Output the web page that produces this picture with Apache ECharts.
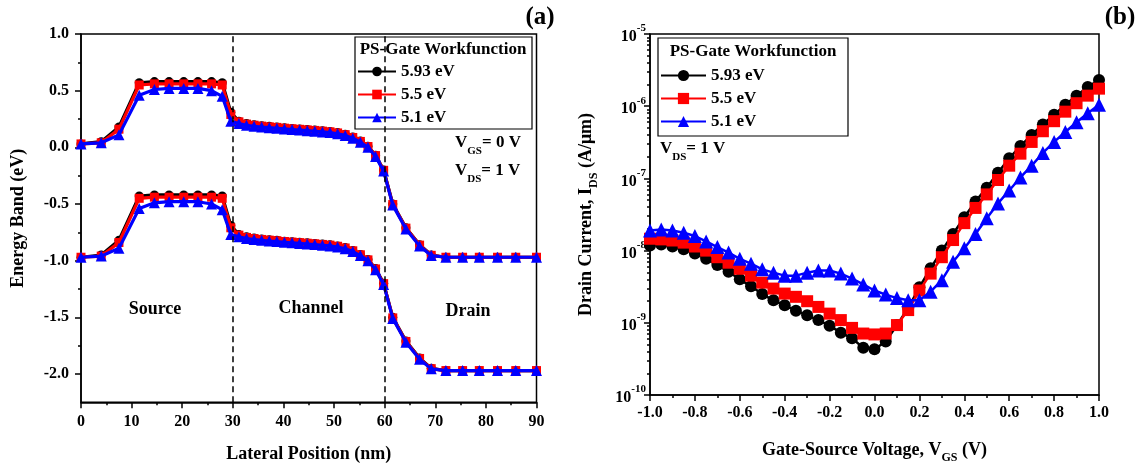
<!DOCTYPE html>
<html><head><meta charset="utf-8">
<script src="https://cdn.jsdelivr.net/npm/echarts@6/dist/echarts.min.js"></script>
<style>html,body{margin:0;padding:0;background:#fff}#c{width:1143px;height:469px}</style>
</head><body><div id="c"></div>
<script>
// ---------- Panel (a): energy band vs lateral position ----------
const posX = [0, 4, 7.5, 11.5, 14.5, 17.4, 20.3, 23.1, 25.8, 27.9, 29.6, 31.2, 32.7, 34.2, 35.7, 37.2, 38.7, 40.2, 41.7, 43.2, 44.7, 46.2, 47.7, 49.2, 50.7, 52.2, 53.7, 55.2, 56.7, 58.2, 59.8, 61.6, 64.2, 66.9, 69.2, 72.1, 75.4, 78.7, 82.3, 85.9, 90];
const ecBlack = [0.03, 0.05, 0.18, 0.57, 0.58, 0.58, 0.58, 0.58, 0.58, 0.57, 0.31, 0.23, 0.21, 0.20, 0.19, 0.185, 0.18, 0.172, 0.167, 0.162, 0.157, 0.152, 0.146, 0.14, 0.13, 0.115, 0.09, 0.055, 0.01, -0.07, -0.20, -0.50, -0.71, -0.86, -0.95, -0.97, -0.97, -0.97, -0.97, -0.97, -0.97];
const ecRed   = [0.03, 0.04, 0.16, 0.55, 0.56, 0.56, 0.56, 0.56, 0.56, 0.55, 0.29, 0.225, 0.205, 0.195, 0.187, 0.181, 0.176, 0.169, 0.164, 0.159, 0.154, 0.149, 0.143, 0.137, 0.127, 0.112, 0.087, 0.052, 0.007, -0.073, -0.203, -0.505, -0.713, -0.863, -0.953, -0.97, -0.97, -0.97, -0.97, -0.97, -0.97];
const ecBlue  = [0.03, 0.04, 0.11, 0.46, 0.51, 0.52, 0.52, 0.52, 0.50, 0.45, 0.23, 0.21, 0.195, 0.186, 0.179, 0.173, 0.168, 0.162, 0.157, 0.152, 0.147, 0.142, 0.136, 0.13, 0.12, 0.105, 0.08, 0.045, 0.0, -0.08, -0.21, -0.51, -0.72, -0.87, -0.955, -0.97, -0.97, -0.97, -0.97, -0.97, -0.97];
const evBlack = [-0.97, -0.95, -0.82, -0.43, -0.42, -0.42, -0.42, -0.42, -0.42, -0.43, -0.69, -0.77, -0.79, -0.80, -0.81, -0.815, -0.82, -0.828, -0.833, -0.838, -0.843, -0.848, -0.854, -0.86, -0.87, -0.885, -0.91, -0.945, -0.99, -1.07, -1.20, -1.50, -1.71, -1.86, -1.95, -1.97, -1.97, -1.97, -1.97, -1.97, -1.97];
const evRed   = [-0.97, -0.96, -0.84, -0.45, -0.44, -0.44, -0.44, -0.44, -0.44, -0.45, -0.71, -0.775, -0.795, -0.805, -0.813, -0.819, -0.824, -0.831, -0.836, -0.841, -0.846, -0.851, -0.857, -0.863, -0.873, -0.888, -0.913, -0.948, -0.993, -1.073, -1.203, -1.505, -1.713, -1.863, -1.953, -1.97, -1.97, -1.97, -1.97, -1.97, -1.97];
const evBlue  = [-0.97, -0.96, -0.89, -0.54, -0.49, -0.48, -0.48, -0.48, -0.50, -0.55, -0.77, -0.79, -0.805, -0.814, -0.821, -0.827, -0.832, -0.838, -0.843, -0.848, -0.853, -0.858, -0.864, -0.87, -0.88, -0.895, -0.92, -0.955, -1.0, -1.08, -1.21, -1.51, -1.72, -1.87, -1.955, -1.97, -1.97, -1.97, -1.97, -1.97, -1.97];
const leftYTicks = [-2, -1.5, -1, -0.5, 0, 0.5, 1];
const leftYMinor = [-1.75, -1.25, -0.75, -0.25, 0.25, 0.75];
const regionBoundaries = [30, 60];

// ---------- Panel (b): drain current vs gate voltage ----------
const vgs = [-1.0, -0.95, -0.9, -0.85, -0.8, -0.75, -0.7, -0.65, -0.6, -0.55, -0.5, -0.45, -0.4, -0.35, -0.3, -0.25, -0.2, -0.15, -0.1, -0.05, 0.0, 0.05, 0.1, 0.15, 0.2, 0.25, 0.3, 0.35, 0.4, 0.45, 0.5, 0.55, 0.6, 0.65, 0.7, 0.75, 0.8, 0.85, 0.9, 0.95, 1.0];
const idBlack = [1.18e-8, 1.21e-8, 1.14e-8, 1.04e-8, 9.1e-9, 7.7e-9, 6.3e-9, 5.1e-9, 4.0e-9, 3.2e-9, 2.5e-9, 2.05e-9, 1.75e-9, 1.47e-9, 1.27e-9, 1.09e-9, 9.1e-10, 7.3e-10, 6.1e-10, 4.5e-10, 4.3e-10, 5.5e-10, 9.3e-10, 1.6e-9, 3.1e-9, 5.7e-9, 1.0e-8, 1.7e-8, 2.9e-8, 4.8e-8, 7.4e-8, 1.2e-7, 1.9e-7, 2.8e-7, 4.0e-7, 5.6e-7, 7.6e-7, 1.05e-6, 1.4e-6, 1.85e-6, 2.3e-6];
const idRed   = [1.46e-8, 1.43e-8, 1.38e-8, 1.29e-8, 1.14e-8, 1.0e-8, 8.1e-9, 6.8e-9, 5.6e-9, 4.5e-9, 3.6e-9, 2.98e-9, 2.54e-9, 2.29e-9, 1.99e-9, 1.66e-9, 1.34e-9, 1.09e-9, 8.5e-10, 7.1e-10, 6.9e-10, 7.1e-10, 9.3e-10, 1.5e-9, 2.8e-9, 4.8e-9, 8.1e-9, 1.4e-8, 2.4e-8, 3.9e-8, 6.0e-8, 9.5e-8, 1.5e-7, 2.2e-7, 3.2e-7, 4.5e-7, 6.2e-7, 8.4e-7, 1.1e-6, 1.4e-6, 1.75e-6];
const idBlue  = [1.9e-8, 1.96e-8, 1.9e-8, 1.77e-8, 1.59e-8, 1.34e-8, 1.12e-8, 9.4e-9, 7.7e-9, 6.6e-9, 5.5e-9, 4.95e-9, 4.5e-9, 4.5e-9, 4.95e-9, 5.3e-9, 5.3e-9, 4.8e-9, 4.1e-9, 3.4e-9, 2.8e-9, 2.46e-9, 2.2e-9, 2.05e-9, 2.05e-9, 2.7e-9, 3.9e-9, 7.0e-9, 1.08e-8, 1.7e-8, 2.8e-8, 4.5e-8, 6.8e-8, 1.03e-7, 1.5e-7, 2.25e-7, 3.2e-7, 4.4e-7, 6.0e-7, 8.0e-7, 1.05e-6];
const rightYMinor = [];
for (let e = -10; e < -5; e++) for (let m = 2; m <= 9; m++) rightYMinor.push(m * Math.pow(10, e));

const names = ['5.93 eV', '5.5 eV', '5.1 eV'];
const colors = ['#000000', '#ff0000', '#0000ff'];
const symbols = ['circle', 'rect', 'triangle'];

const F = "'Liberation Serif', 'Times New Roman', serif";
const B = {fontFamily: F, fontWeight: 'bold', color: '#000'};
const richName = {
  t: {...B, fontSize: 18, lineHeight: 18, verticalAlign: 'top'},
  s: {...B, fontSize: 12, lineHeight: 23, verticalAlign: 'bottom'}
};
const richSmall = {
  v: {...B, fontSize: 17, lineHeight: 17, verticalAlign: 'top'},
  s: {...B, fontSize: 11, lineHeight: 23, verticalAlign: 'bottom'}
};
const axLine = {onZero: false, lineStyle: {color: '#000', width: 1.5}};
const tickStyle = {color: '#000', width: 1.5};

const pairs = (xs, ys) => xs.map((x, i) => [x, ys[i]]);

const series = [];
const leftC = [ecBlack, ecRed, ecBlue], leftV = [evBlack, evRed, evBlue];
for (let k = 0; k < 3; k++) {
  [leftC[k], leftV[k]].forEach((arr, j) => {
    const s = {
      type: 'line', name: names[k], xAxisIndex: 0, yAxisIndex: 0,
      data: pairs(posX, arr), symbol: symbols[k], symbolSize: k === 2 ? 11 : 9,
      lineStyle: {color: colors[k], width: 3.2}, itemStyle: {color: colors[k]},
      z: 2 + k, animation: false
    };
    if (k === 0 && j === 0) {
      s.markLine = {
        silent: true, symbol: 'none', label: {show: false}, animation: false,
        lineStyle: {color: '#000', type: [6, 4], width: 1.5},
        data: regionBoundaries.map(v => ({xAxis: v}))
      };
    }
    series.push(s);
  });
}
const rightI = [idBlack, idRed, idBlue];
for (let k = 0; k < 3; k++) {
  series.push({
    type: 'line', name: names[k], xAxisIndex: 1, yAxisIndex: 2,
    data: pairs(vgs, rightI[k]), symbol: symbols[k], symbolSize: k === 2 ? 14 : 12,
    lineStyle: {color: colors[k], width: 2.5}, itemStyle: {color: colors[k]},
    z: 2 + k, animation: false
  });
}

const legendBase = {
  orient: 'vertical', padding: 0, selectedMode: false, data: names,
  textStyle: {...B, fontSize: 17}
};

const option = {
  animation: false,
  backgroundColor: '#fff',
  grid: [
    {left: 81, top: 34, width: 455.5, height: 368.3, show: true, borderColor: '#000', borderWidth: 1.5, containLabel: false},
    {left: 650, top: 34, width: 449, height: 362.7, show: true, borderColor: '#000', borderWidth: 1.5, containLabel: false}
  ],
  xAxis: [
    {gridIndex: 0, type: 'value', min: 0, max: 90, interval: 10,
     axisLine: axLine, axisTick: {length: 6, lineStyle: tickStyle},
     minorTick: {show: true, splitNumber: 2, length: 3, lineStyle: tickStyle},
     axisLabel: {...B, fontSize: 16, margin: 12}, splitLine: {show: false},
     name: 'Lateral Position (nm)', nameLocation: 'middle', nameGap: 43,
     nameTextStyle: {...B, fontSize: 18}},
    {gridIndex: 1, type: 'value', min: -1, max: 1, interval: 0.2,
     axisLine: axLine, axisTick: {length: 6, lineStyle: tickStyle},
     minorTick: {show: true, splitNumber: 2, length: 3, lineStyle: tickStyle},
     axisLabel: {...B, fontSize: 16, margin: 10, formatter: v => v.toFixed(1)}, splitLine: {show: false},
     name: '{t|Gate-Source Voltage, V}{s|GS}{t| (V)}', nameLocation: 'middle', nameGap: 46,
     nameTextStyle: {...B, fontSize: 18, rich: richName}}
  ],
  yAxis: [
    {gridIndex: 0, type: 'value', min: -2.25, max: 1,
     axisLine: axLine, axisTick: {length: 6, lineStyle: tickStyle, customValues: leftYTicks},
     axisLabel: {...B, fontSize: 16, margin: 12, customValues: leftYTicks, formatter: v => v.toFixed(1)},
     splitLine: {show: false},
     name: 'Energy Band (eV)', nameLocation: 'middle', nameGap: 54,
     nameTextStyle: {...B, fontSize: 18}},
    {gridIndex: 0, type: 'value', min: -2.25, max: 1, position: 'left',
     axisLine: {show: false, onZero: false}, axisLabel: {show: false}, splitLine: {show: false},
     axisTick: {length: 3, lineStyle: tickStyle, customValues: leftYMinor}},
    {gridIndex: 1, type: 'log', logBase: 10, min: 1e-10, max: 1e-5,
     axisLine: axLine, axisTick: {length: 6, lineStyle: tickStyle},
     axisLabel: {margin: 4, formatter: v => '{m|10}{p|' + Math.round(Math.log10(v)) + '}',
       rich: {m: {...B, fontSize: 16, lineHeight: 22, verticalAlign: 'bottom'},
              p: {...B, fontSize: 11, lineHeight: 11, verticalAlign: 'top'}}},
     splitLine: {show: false},
     name: '{t|Drain Current, I}{s|DS}{t| (A/μm)}', nameLocation: 'middle', nameGap: 50,
     nameTextStyle: {...B, fontSize: 18, rich: richName}},
    {gridIndex: 1, type: 'log', logBase: 10, min: 1e-10, max: 1e-5, position: 'left',
     axisLine: {show: false, onZero: false}, axisLabel: {show: false}, splitLine: {show: false},
     axisTick: {length: 3, lineStyle: tickStyle, customValues: rightYMinor}}
  ],
  legend: [
    {...legendBase, left: 357, top: 63, itemGap: 6, itemWidth: 38, itemHeight: 12},
    {...legendBase, left: 660, top: 67, itemGap: 6, itemWidth: 45, itemHeight: 14}
  ],
  graphic: [
    {type: 'rect', shape: {x: 355, y: 37, width: 177, height: 92}, style: {fill: 'none', stroke: '#000', lineWidth: 1.2}, z: 10},
    {type: 'text', x: 443, y: 50, style: {text: 'PS-Gate Workfunction', ...B, fill: '#000', fontSize: 17, align: 'center', verticalAlign: 'middle'}, z: 10},
    {type: 'rect', shape: {x: 658, y: 38, width: 190, height: 98}, style: {fill: 'none', stroke: '#000', lineWidth: 1.2}, z: 10},
    {type: 'text', x: 753, y: 52, style: {text: 'PS-Gate Workfunction', ...B, fill: '#000', fontSize: 17, align: 'center', verticalAlign: 'middle'}, z: 10},
    {type: 'text', x: 455, y: 134, style: {text: '{v|V}{s|GS}{v|= 0 V}', rich: richSmall}, z: 10},
    {type: 'text', x: 455, y: 162, style: {text: '{v|V}{s|DS}{v|= 1 V}', rich: richSmall}, z: 10},
    {type: 'text', x: 660, y: 140, style: {text: '{v|V}{s|DS}{v|= 1 V}', rich: richSmall}, z: 10},
    {type: 'text', x: 155, y: 309, style: {text: 'Source', ...B, fill: '#000', fontSize: 18, align: 'center', verticalAlign: 'middle'}, z: 10},
    {type: 'text', x: 311, y: 308, style: {text: 'Channel', ...B, fill: '#000', fontSize: 18, align: 'center', verticalAlign: 'middle'}, z: 10},
    {type: 'text', x: 468, y: 311, style: {text: 'Drain', ...B, fill: '#000', fontSize: 18, align: 'center', verticalAlign: 'middle'}, z: 10},
    {type: 'text', x: 540, y: 18, style: {text: '(a)', ...B, fill: '#000', fontSize: 25, align: 'center', verticalAlign: 'middle'}, z: 10},
    {type: 'text', x: 1120, y: 18, style: {text: '(b)', ...B, fill: '#000', fontSize: 25, align: 'center', verticalAlign: 'middle'}, z: 10}
  ],
  series: series
};

const chart = echarts.init(document.getElementById('c'), null, {renderer: 'canvas', width: 1143, height: 469});
chart.setOption(option);
</script>
</body></html>
